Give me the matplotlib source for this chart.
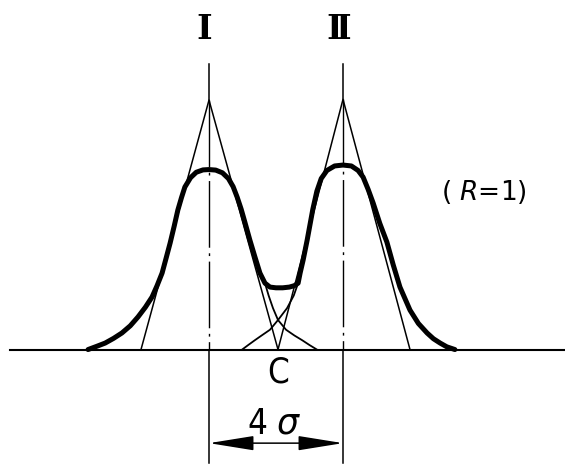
import numpy as np
import matplotlib
matplotlib.use('Agg')
import matplotlib.pyplot as plt
from matplotlib.patches import FancyArrowPatch

# x in units of sigma (peak I at 0, peak II at 4), y relative to peak height

# resolved envelope (thick curve)
env_x = [-3.61, -3.35, -3.10, -2.85, -2.60, -2.35, -2.12, -1.90, -1.70, -1.55,
         -1.40, -1.28, -1.16, -1.04, -0.93, -0.82, -0.72, -0.55, -0.38, -0.18,
         0.00, 0.20, 0.40, 0.58, 0.72, 0.84, 0.96, 1.07, 1.22, 1.37,
         1.52, 1.67, 1.82, 2.00, 2.20, 2.40, 2.55, 2.66, 2.72, 2.81,
         2.93, 3.10, 3.22, 3.35, 3.52, 3.75, 4.00, 4.25, 4.45, 4.60,
         4.75, 4.90, 5.10, 5.31, 5.50, 5.70, 6.00, 6.25, 6.51, 6.70,
         6.90, 7.10, 7.34]
env_y = [0.000, 0.018, 0.036, 0.062, 0.092, 0.132, 0.181, 0.235, 0.292, 0.355,
         0.425, 0.508, 0.592, 0.685, 0.775, 0.845, 0.903, 0.955, 0.985, 0.998,
         1.000, 0.997, 0.982, 0.950, 0.905, 0.847, 0.780, 0.708, 0.608, 0.515,
         0.425, 0.369, 0.347, 0.343, 0.343, 0.347, 0.355, 0.369, 0.425, 0.497,
         0.608, 0.780, 0.880, 0.950, 0.995, 1.020, 1.025, 1.020, 0.995, 0.958,
         0.890, 0.814, 0.700, 0.597, 0.470, 0.347, 0.219, 0.145, 0.092, 0.060,
         0.036, 0.015, 0.000]

# single-peak tails running under the valley
tail1_x = [1.67, 1.78, 1.91, 2.06, 2.30, 2.55, 2.78, 3.00, 3.22]
tail1_y = [0.369, 0.300, 0.230, 0.164, 0.110, 0.078, 0.052, 0.025, 0.000]
tail2_x = [2.66, 2.53, 2.33, 2.06, 1.82, 1.57, 1.37, 1.17, 0.99]
tail2_y = [0.369, 0.300, 0.230, 0.164, 0.110, 0.078, 0.052, 0.025, 0.000]

# tangent triangles: (left base, apex x, right base), apex height
peak_pos = [0.0, 4.0]
tri_left = [-2.03, 2.06]
tri_right = [2.06, 6.00]
apex_h = [1.386, 1.39]
peak_labels = ['Ⅰ', 'Ⅱ']

centre_top = 1.586
dim_y = -0.52
ext_bottom = -0.63

plt.rcParams['lines.scale_dashes'] = False

fig = plt.figure(figsize=(5.65, 4.66), dpi=100)
ax = fig.add_axes([0, 0, 1, 1])
ax.set_xlim(-6.239, 10.627)
ax.set_ylim(-0.647, 1.942)
ax.axis('off')

# baseline
ax.plot([-5.94, 10.7], [0, 0], color='black', lw=1.5)

# tangents
for i in range(2):
    ax.plot([tri_left[i], peak_pos[i], tri_right[i]], [0, apex_h[i], 0],
            color='black', lw=1.1)
    # centre line: solid above apex, dash-dot below, solid extension below baseline
    ax.plot([peak_pos[i], peak_pos[i]], [centre_top, apex_h[i]], color='black', lw=1.1)
    ax.plot([peak_pos[i], peak_pos[i]], [apex_h[i], 0], color='black', lw=1.0,
            dashes=[48, 4, 2, 4])
    ax.plot([peak_pos[i], peak_pos[i]], [0, ext_bottom], color='black', lw=1.1)
    ax.text(peak_pos[i] - 0.13, 1.78, peak_labels[i], fontsize=24, ha='center',
            va='center', family=['DejaVu Serif', 'DejaVu Sans'], fontweight='bold')

ax.plot(tail1_x, tail1_y, color='black', lw=1.3)
ax.plot(tail2_x, tail2_y, color='black', lw=1.3)
ax.plot(env_x, env_y, color='black', lw=3.6, solid_capstyle='round',
        solid_joinstyle='round')

# 4 sigma dimension
arr = FancyArrowPatch((peak_pos[0], dim_y), (peak_pos[1], dim_y),
                      arrowstyle='<|-|>,head_length=28,head_width=4.5',
                      mutation_scale=1, shrinkA=0, shrinkB=0,
                      color='black', lw=1.1)
ax.add_patch(arr)

ax.text(2.06, -0.13, 'C', fontsize=25, ha='center', va='center',
        family='DejaVu Sans', fontstretch='condensed')
ax.text(1.94, -0.464, r'4 $\sigma$', fontsize=25, ha='center', va='baseline',
        family='DejaVu Sans', fontstretch='condensed')
ax.text(8.21, 0.875, r'( $R$=1)', fontsize=19, ha='center', va='center',
        family='DejaVu Sans')

fig.savefig('out.png', dpi=100)
